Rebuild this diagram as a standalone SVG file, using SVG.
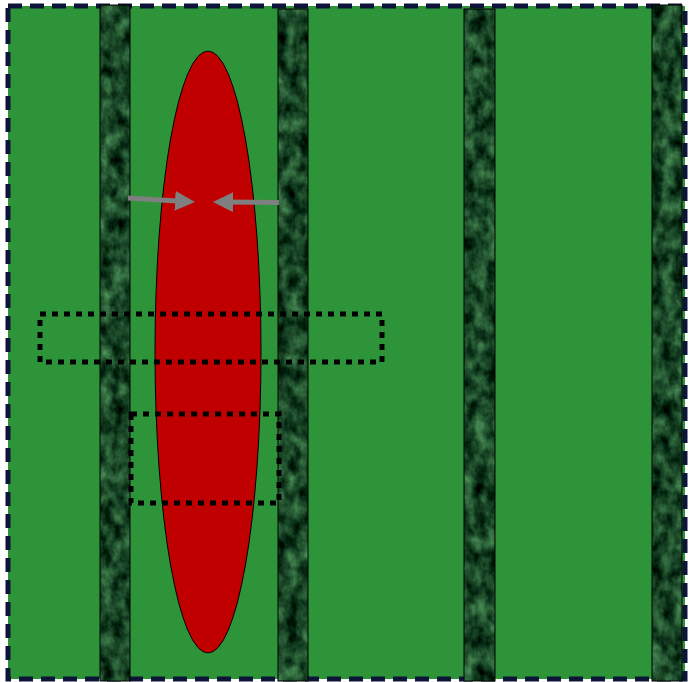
<svg xmlns="http://www.w3.org/2000/svg" width="692" height="682" viewBox="0 0 692 682">
  <defs>
    <filter id="marble" x="0" y="0" width="1" height="1" color-interpolation-filters="sRGB">
      <feTurbulence type="fractalNoise" baseFrequency="0.08 0.06" numOctaves="4" seed="3" result="n"/>
      <feColorMatrix in="n" type="matrix" values="0.5 0 0 0 -0.15  0.75 0 0 0 -0.1  0.5 0 0 0 -0.1  0 0 0 0 1" result="c"/>
      <feComposite in="c" in2="SourceGraphic" operator="in"/>
    </filter>
    <marker id="ah" markerWidth="4" markerHeight="4" refX="2" refY="2" orient="auto" markerUnits="strokeWidth">
      <path d="M0,0 L4,2 L0,4 Z" fill="#7f7f7f"/>
    </marker>
    <style>
      .bar { fill: #0d4019; filter: url(#marble); }
      .barline { fill: none; stroke: #000; stroke-width: 1; }
      .dot { fill: none; stroke: #000; stroke-width: 5; stroke-dasharray: 6 6; }
      .arrow { stroke: #7f7f7f; stroke-width: 5; fill: none; marker-end: url(#ah); }
    </style>
  </defs>
  <g id="background">
    <rect x="8" y="6" width="677" height="673" fill="#2e9439" stroke="#0c1438" stroke-width="5" stroke-dasharray="14 8"/>
  </g>
  <g id="bar1">
    <rect class="bar" x="100" y="5" width="30" height="676"/>
    <rect class="barline" x="100" y="5" width="30" height="676"/>
  </g>
  <g id="bar2">
    <rect class="bar" x="278" y="9" width="30" height="672"/>
    <rect class="barline" x="278" y="9" width="30" height="672"/>
  </g>
  <g id="bar3">
    <rect class="bar" x="464" y="9" width="31" height="672"/>
    <rect class="barline" x="464" y="9" width="31" height="672"/>
  </g>
  <g id="bar4">
    <rect class="bar" x="652" y="5" width="30" height="676"/>
    <rect class="barline" x="652" y="5" width="30" height="676"/>
  </g>
  <g id="ellipse">
    <ellipse cx="208" cy="352" rx="53" ry="301" fill="#c00000" stroke="#000" stroke-width="1"/>
  </g>
  <g id="connectors">
    <line class="arrow" x1="128" y1="198" x2="185" y2="201.5"/>
    <line class="arrow" x1="279" y1="202.5" x2="223" y2="202"/>
  </g>
  <g id="box1">
    <rect class="dot" x="40" y="314" width="342" height="48"/>
  </g>
  <g id="box2">
    <rect class="dot" x="131" y="414" width="148" height="89"/>
  </g>
</svg>
